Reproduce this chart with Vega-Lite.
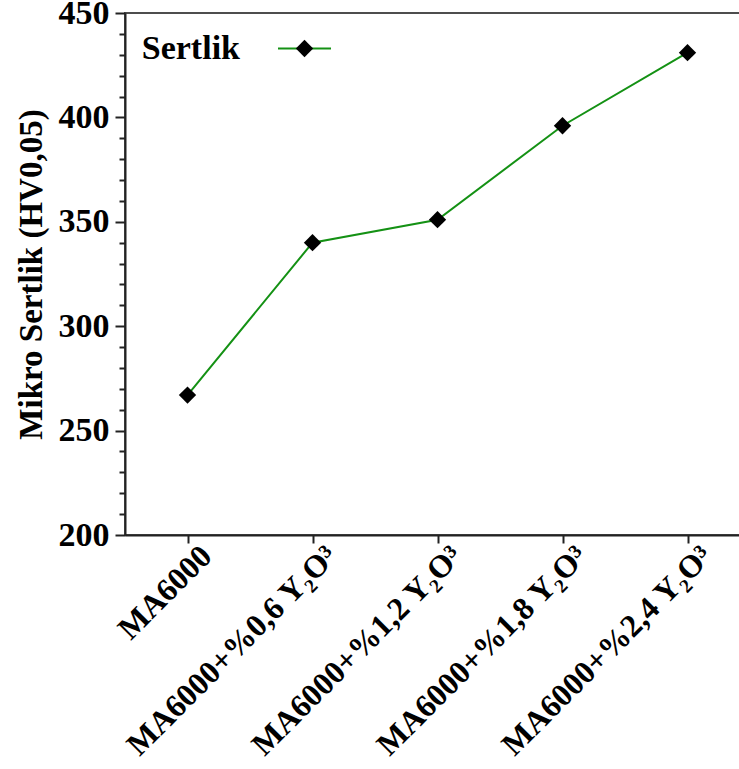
{
  "$schema": "https://vega.github.io/schema/vega-lite/v6.json",
  "width": 625,
  "height": 522,
  "autosize": {"type": "none"},
  "padding": {"left": 125, "top": 13, "right": 0, "bottom": 234},
  "background": "white",
  "config": {
    "font": "Liberation Serif",
    "view": {"stroke": "#4d4d4d", "strokeWidth": 2}
  },
  "data": {
    "values": [
      {"numune": "MA6000", "sertlik": 267},
      {"numune": "MA6000+%0,6 Y₂O³", "sertlik": 340},
      {"numune": "MA6000+%1,2 Y₂O³", "sertlik": 351},
      {"numune": "MA6000+%1,8 Y₂O³", "sertlik": 396},
      {"numune": "MA6000+%2,4 Y₂O³", "sertlik": 431}
    ]
  },
  "encoding": {
    "x": {
      "field": "numune",
      "type": "nominal",
      "sort": null,
      "scale": {"type": "point", "padding": 0.5},
      "axis": {
        "title": null,
        "labelAngle": -45,
        "labelFontSize": 32,
        "labelFontWeight": "bold",
        "labelColor": "black",
        "labelLimit": 0,
        "labelPadding": -3,
        "labelOffset": 8,
        "tickSize": 8,
        "tickWidth": 2,
        "tickColor": "#222222",
        "domainColor": "#222222",
        "domainWidth": 2,
        "grid": false
      }
    }
  },
  "layer": [
    {
      "mark": {"type": "line", "strokeWidth": 2},
      "encoding": {
        "y": {
          "field": "sertlik",
          "type": "quantitative",
          "scale": {"domain": [200, 450], "nice": false, "zero": false},
          "axis": {
            "orient": "left",
            "values": [200, 250, 300, 350, 400, 450],
            "tickSize": 10,
            "tickWidth": 2,
            "tickColor": "#222222",
            "domainColor": "#222222",
            "domainWidth": 2,
            "labelFontSize": 34,
            "labelFontWeight": "bold",
            "labelColor": "black",
            "labelPadding": 6,
            "title": "Mikro Sertlik (HV0,05)",
            "titleFontSize": 33,
            "titleFontWeight": "bold",
            "titleColor": "black",
            "titlePadding": 10,
            "grid": false
          }
        },
        "color": {
          "datum": "Sertlik",
          "type": "nominal",
          "scale": {"range": ["#149114"]},
          "legend": {
            "orient": "none",
            "legendX": 152,
            "legendY": 8,
            "padding": 0,
            "title": null,
            "symbolType": "stroke",
            "symbolSize": 2809,
            "symbolStrokeWidth": 2,
            "labelColor": "black",
            "labelFontSize": 34,
            "labelFontWeight": "bold",
            "labelAlign": "right",
            "labelOffset": -92,
            "labelLimit": 0
          }
        }
      }
    },
    {
      "mark": {"type": "point", "filled": true, "color": "black", "size": 300, "opacity": 1},
      "encoding": {
        "y": {
          "field": "sertlik",
          "type": "quantitative",
          "axis": {
            "orient": "left",
            "values": [210, 220, 230, 240, 260, 270, 280, 290, 310, 320, 330, 340, 360, 370, 380, 390, 410, 420, 430, 440],
            "tickSize": 6,
            "tickWidth": 2,
            "tickColor": "#222222",
            "labels": false,
            "domain": false,
            "title": null,
            "grid": false
          }
        },
        "shape": {
          "datum": "Sertlik işareti",
          "type": "nominal",
          "scale": {"range": ["diamond"]},
          "legend": {
            "orient": "none",
            "legendX": 170,
            "legendY": 26,
            "padding": 0,
            "title": null,
            "symbolSize": 300,
            "symbolFillColor": "black",
            "symbolStrokeColor": "black",
            "symbolOpacity": 1,
            "labelColor": "transparent",
            "labelFontSize": 1
          }
        }
      }
    }
  ],
  "resolve": {"axis": {"y": "independent"}}
}
